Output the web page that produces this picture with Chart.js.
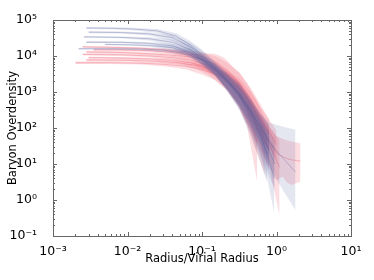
<!DOCTYPE html>
<html>
<head>
<meta charset="utf-8">
<script src="https://cdn.jsdelivr.net/npm/chart.js@4"></script>
<style>
  html, body { margin: 0; padding: 0; background: #fff; }
  #wrap { width: 374px; height: 280px; }
</style>
</head>
<body>
<div id="wrap"><canvas id="graph" width="374" height="280"></canvas></div>
<script>
// each row: [radius / virial radius, low, median, high]
const blue1 = [
    [0.0028, 5.6e4, 6.0e4, 6.4e4], [0.006, 5.5e4, 5.9e4, 6.3e4], [0.012, 5.2e4, 5.6e4, 6.1e4],
    [0.025, 4.4e4, 5.0e4, 5.6e4], [0.045, 3.0e4, 3.6e4, 4.3e4], [0.07, 1.5e4, 2.0e4, 2.6e4],
    [0.1, 7.5e3, 1.1e4, 1.5e4], [0.15, 3.2e3, 5.0e3, 7.0e3], [0.22, 1.2e3, 2.2e3, 3.5e3],
    [0.32, 400, 900, 1800], [0.45, 120, 300, 650], [0.6, 35, 100, 230], [0.8, 6, 25, 80]
];
const blue2 = [
    [0.003, 4.3e4, 4.6e4, 4.9e4], [0.008, 4.2e4, 4.5e4, 4.8e4], [0.02, 3.7e4, 4.1e4, 4.5e4],
    [0.04, 2.6e4, 3.2e4, 3.8e4], [0.07, 1.3e4, 1.8e4, 2.3e4], [0.1, 7e3, 1.0e4, 1.4e4],
    [0.15, 3.0e3, 4.6e3, 6.5e3], [0.22, 1.1e3, 2.0e3, 3.2e3], [0.32, 350, 800, 1500],
    [0.45, 80, 250, 550], [0.6, 18, 70, 180], [0.75, 4, 20, 70], [0.93, 0.45, 4, 30]
];
const blue3 = [
    [0.0026, 3.2e4, 3.4e4, 3.6e4], [0.008, 3.1e4, 3.3e4, 3.5e4], [0.02, 2.7e4, 3.0e4, 3.3e4],
    [0.04, 1.9e4, 2.4e4, 2.9e4], [0.07, 1.1e4, 1.5e4, 1.9e4], [0.1, 6e3, 9e3, 1.2e4],
    [0.15, 3.0e3, 4.5e3, 6.2e3], [0.22, 1.1e3, 2.0e3, 3.0e3], [0.32, 400, 850, 1500],
    [0.45, 130, 300, 600], [0.6, 40, 110, 250], [0.8, 8, 40, 140], [1.2, 2, 15, 110], [1.8, 0.52, 6, 90]
];
const blue4 = [
    [0.0028, 2.3e4, 2.4e4, 2.6e4], [0.008, 2.25e4, 2.4e4, 2.55e4], [0.02, 2.1e4, 2.25e4, 2.4e4],
    [0.04, 1.6e4, 1.9e4, 2.2e4], [0.07, 1.0e4, 1.3e4, 1.6e4], [0.1, 5.5e3, 8e3, 1.0e4],
    [0.15, 2.8e3, 4.2e3, 5.6e3], [0.22, 1.1e3, 1.9e3, 2.8e3], [0.32, 350, 750, 1300],
    [0.45, 90, 250, 500], [0.6, 20, 80, 180], [0.75, 6, 30, 90], [0.95, 2, 10, 45]
];
const blue5 = [
    [0.005, 2.0e4, 2.1e4, 2.2e4], [0.01, 1.95e4, 2.05e4, 2.15e4], [0.02, 1.8e4, 1.95e4, 2.1e4],
    [0.04, 1.45e4, 1.7e4, 1.95e4], [0.07, 9e3, 1.2e4, 1.5e4], [0.1, 5.5e3, 7.8e3, 1.0e4],
    [0.15, 2.8e3, 4.2e3, 5.8e3], [0.22, 1.2e3, 2.0e3, 3.0e3], [0.32, 450, 900, 1600],
    [0.45, 140, 320, 650], [0.6, 40, 120, 280], [0.8, 10, 40, 120]
];
const blue6 = [
    [0.0022, 1.5e4, 1.6e4, 1.7e4], [0.006, 1.5e4, 1.6e4, 1.7e4], [0.015, 1.45e4, 1.55e4, 1.65e4],
    [0.03, 1.3e4, 1.45e4, 1.6e4], [0.06, 1.05e4, 1.2e4, 1.4e4], [0.1, 6e3, 7.5e3, 9.5e3],
    [0.15, 2.9e3, 4.0e3, 5.3e3], [0.22, 1.0e3, 1.8e3, 2.7e3], [0.32, 300, 700, 1200],
    [0.45, 60, 200, 420], [0.6, 12, 60, 160], [0.75, 3, 18, 70]
];

const red1 = [
    [0.0025, 1.7e4, 1.8e4, 1.9e4], [0.006, 1.65e4, 1.75e4, 1.85e4], [0.015, 1.55e4, 1.65e4, 1.75e4],
    [0.03, 1.4e4, 1.5e4, 1.65e4], [0.06, 1.1e4, 1.3e4, 1.5e4], [0.1, 8e3, 1.0e4, 1.25e4],
    [0.15, 5e3, 7e3, 1.0e4], [0.22, 2.5e3, 4e3, 6.5e3], [0.32, 900, 1800, 3300],
    [0.45, 280, 650, 1300], [0.6, 80, 220, 480], [0.8, 30, 80, 170], [1.0, 12, 35, 85]
];
const red2 = [
    [0.0028, 1.2e4, 1.3e4, 1.4e4], [0.008, 1.15e4, 1.25e4, 1.35e4], [0.02, 1.05e4, 1.15e4, 1.25e4],
    [0.04, 9.5e3, 1.05e4, 1.15e4], [0.07, 8e3, 9.5e3, 1.15e4], [0.1, 6e3, 8e3, 1.2e4],
    [0.15, 3.5e3, 6e3, 1.15e4], [0.2, 2.2e3, 4e3, 9e3], [0.26, 1.3e3, 2.6e3, 5e3],
    [0.32, 700, 1600, 3500], [0.4, 300, 700, 1800], [0.55, 80, 220, 550], [0.75, 20, 55, 130],
    [1.0, 3.5, 20, 60], [1.2, 4.5, 16, 50], [1.4, 3, 14, 45], [1.6, 2.6, 13, 42], [2.1, 3.2, 12, 38]
];
const red3 = [
    [0.0025, 1.05e4, 1.1e4, 1.2e4], [0.008, 1.0e4, 1.08e4, 1.16e4], [0.02, 9.2e3, 1.0e4, 1.08e4],
    [0.04, 8.0e3, 9e3, 1.0e4], [0.07, 6.5e3, 7.8e3, 9.2e3], [0.1, 4.8e3, 6.2e3, 8e3],
    [0.15, 2.8e3, 4.2e3, 6e3], [0.22, 1.2e3, 2.2e3, 3.5e3], [0.3, 450, 1000, 1900],
    [0.4, 120, 350, 800], [0.55, 3.2, 40, 160]
];
const red4 = [
    [0.002, 6.0e3, 6.5e3, 7.0e3], [0.006, 6.0e3, 6.5e3, 7.0e3], [0.015, 5.8e3, 6.3e3, 6.8e3],
    [0.03, 5.2e3, 5.9e3, 6.6e3], [0.06, 4.3e3, 5.2e3, 6.1e3], [0.1, 3.0e3, 4.2e3, 5.5e3],
    [0.15, 2.2e3, 3.2e3, 4.4e3], [0.22, 1.1e3, 1.9e3, 2.9e3], [0.32, 380, 800, 1400],
    [0.45, 90, 250, 550], [0.6, 25, 80, 200], [0.8, 7, 25, 75]
];
const red5 = [
    [0.003, 8.5e3, 9e3, 9.6e3], [0.008, 8.2e3, 8.8e3, 9.4e3], [0.02, 7.6e3, 8.3e3, 9.0e3],
    [0.04, 6.7e3, 7.6e3, 8.5e3], [0.07, 5.4e3, 6.5e3, 7.8e3], [0.1, 4.2e3, 5.4e3, 6.8e3],
    [0.15, 2.7e3, 3.8e3, 5.2e3], [0.22, 1.2e3, 2.1e3, 3.2e3], [0.32, 420, 900, 1700],
    [0.45, 110, 300, 650], [0.6, 30, 100, 250], [0.8, 8, 35, 110], [1.1, 0.37, 8, 45]
];
const red6 = [
    [0.0035, 1.4e4, 1.5e4, 1.6e4], [0.008, 1.38e4, 1.48e4, 1.58e4], [0.02, 1.3e4, 1.4e4, 1.5e4],
    [0.04, 1.12e4, 1.25e4, 1.38e4], [0.07, 9e3, 1.05e4, 1.2e4], [0.1, 6.5e3, 8e3, 9.8e3],
    [0.15, 3.8e3, 5.0e3, 6.6e3], [0.22, 1.9e3, 2.8e3, 4.0e3], [0.32, 700, 1300, 2300],
    [0.45, 220, 500, 1000], [0.6, 60, 180, 400], [0.8, 22, 70, 170]
];
const red7 = [
    [0.0028, 7.2e3, 7.8e3, 8.4e3], [0.01, 7.0e3, 7.6e3, 8.2e3], [0.025, 6.5e3, 7.1e3, 7.8e3],
    [0.05, 5.7e3, 6.4e3, 7.2e3], [0.08, 4.6e3, 5.6e3, 6.7e3], [0.12, 3.0e3, 4.3e3, 5.8e3],
    [0.2, 1.3e3, 2.4e3, 3.8e3], [0.3, 450, 1100, 2100], [0.42, 100, 350, 850],
    [0.55, 20, 100, 300], [0.7, 5, 35, 120]
];

const blueProfiles = [blue1, blue2, blue3, blue4, blue5, blue6];
const redProfiles = [red1, red2, red3, red4, red5, red6, red7];
const xTicks = [1e-3, 1e-2, 1e-1, 1e0, 1e1];
const yTicks = [1e-1, 1e0, 1e1, 1e2, 1e3, 1e4, 1e5];

const SUP = {'-': '\u207B', '0': '\u2070', '1': '\u00B9', '2': '\u00B2', '3': '\u00B3',
             '4': '\u2074', '5': '\u2075', '6': '\u2076', '7': '\u2077', '8': '\u2078', '9': '\u2079'};

function powerLabel(v) {
    const e = String(Math.round(Math.log10(v)));
    return '10' + e.split('').map(c => SUP[c]).join('');
}

function profileDatasets(rows, line, fill) {
    const lo = rows.map(r => ({x: r[0], y: r[1]}));
    const mid = rows.map(r => ({x: r[0], y: r[2]}));
    const hi = rows.map(r => ({x: r[0], y: r[3]}));
    return [
        {data: lo, borderWidth: 0, borderColor: 'rgba(0,0,0,0)', pointRadius: 0, fill: false},
        {data: hi, borderWidth: 0, borderColor: 'rgba(0,0,0,0)', pointRadius: 0, fill: '-1', backgroundColor: fill},
        {data: mid, borderWidth: 1, borderColor: line, pointRadius: 0, fill: false}
    ];
}

let datasets = [];
blueProfiles.forEach(p => {
    datasets = datasets.concat(profileDatasets(p, 'rgba(85,92,150,0.32)', 'rgba(90,100,160,0.16)'));
});
redProfiles.forEach(p => {
    datasets = datasets.concat(profileDatasets(p, 'rgba(235,80,100,0.35)', 'rgba(240,95,115,0.21)'));
});

// inward ticks and the gray frame, like the classic matplotlib axes
const frameTicks = {
    id: 'frameTicks',
    afterDraw(chart) {
        const ctx = chart.ctx;
        const a = chart.chartArea;
        const xs = chart.scales.x, ys = chart.scales.y;
        ctx.save();
        ctx.strokeStyle = '#666';
        ctx.lineWidth = 1;
        ctx.beginPath();
        for (let e = -3; e <= 1; e++) {
            for (let m = 1; m <= 9; m++) {
                const v = m * Math.pow(10, e);
                if (v > 10.0001) continue;
                const px = Math.round(xs.getPixelForValue(v)) + 0.5;
                const len = m === 1 ? 4 : 2;
                ctx.moveTo(px, a.bottom); ctx.lineTo(px, a.bottom - len);
                ctx.moveTo(px, a.top); ctx.lineTo(px, a.top + len);
            }
        }
        for (let e = -1; e <= 5; e++) {
            for (let m = 1; m <= 9; m++) {
                const v = m * Math.pow(10, e);
                if (v > 1e5 + 1) continue;
                const py = Math.round(ys.getPixelForValue(v)) + 0.5;
                const len = m === 1 ? 4 : 2;
                ctx.moveTo(a.left, py); ctx.lineTo(a.left + len, py);
                ctx.moveTo(a.right, py); ctx.lineTo(a.right - len, py);
            }
        }
        ctx.stroke();
        ctx.strokeRect(Math.round(a.left) + 0.5, Math.round(a.top) + 0.5,
            Math.round(a.right - a.left), Math.round(a.bottom - a.top));
        ctx.restore();
    }
};

const font = {family: 'DejaVu Sans', size: 12.5};

new Chart(document.getElementById('graph'), {
    type: 'line',
    data: {datasets: datasets},
    options: {
        responsive: false,
        animation: false,
        layout: {padding: {top: 20, right: 23, bottom: 14, left: 0}},
        plugins: {legend: {display: false}, tooltip: {enabled: false}},
        scales: {
            x: {
                type: 'logarithmic',
                min: 1e-3, max: 10,
                grid: {display: false},
                border: {display: false},
                afterBuildTicks: s => { s.ticks = xTicks.map(v => ({value: v})); },
                afterFit: s => { s.height = 30; },
                ticks: {font: font, color: '#000', padding: 0, maxRotation: 0, autoSkip: false,
                        callback: v => powerLabel(v)},
                title: {display: true, text: 'Radius/Virial Radius', color: '#000',
                        font: {family: 'DejaVu Sans', size: 11.5}, padding: {top: 0, bottom: 0}}
            },
            y: {
                type: 'logarithmic',
                min: 1e-1, max: 1e5,
                grid: {display: false},
                border: {display: false},
                afterBuildTicks: s => { s.ticks = yTicks.map(v => ({value: v})); },
                afterFit: s => { s.width = 53; },
                ticks: {font: font, color: '#000', padding: 8, autoSkip: false,
                        callback: v => powerLabel(v)},
                title: {display: true, text: 'Baryon Overdensity', color: '#000',
                        font: {family: 'DejaVu Sans', size: 11.5}, padding: {top: 6, bottom: 0}}
            }
        }
    },
    plugins: [frameTicks]
});
</script>
</body>
</html>
